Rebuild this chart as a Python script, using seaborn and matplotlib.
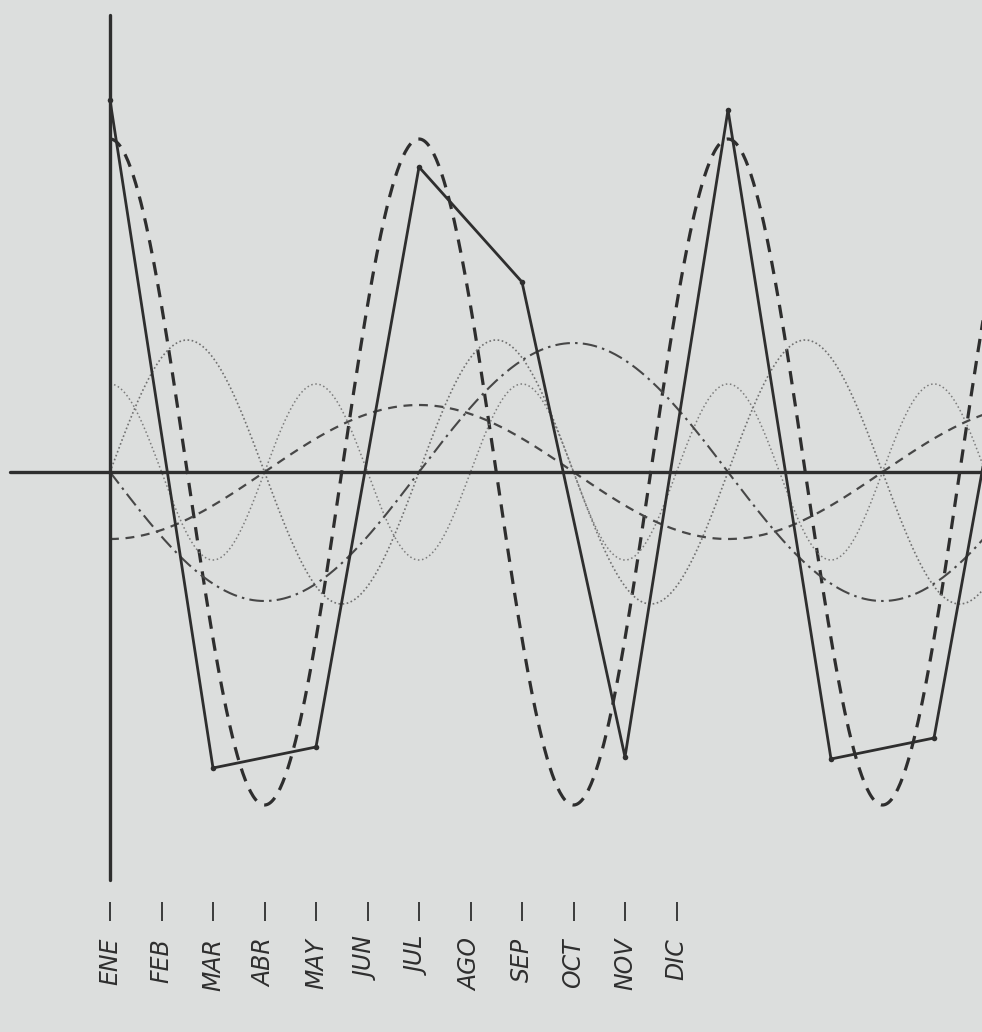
import numpy as np
import pandas as pd
import seaborn as sns
import matplotlib.pyplot as plt

# Monthly axis (Spanish month abbreviations, one tick per month)
months = ["ENE", "FEB", "MAR", "ABR", "MAY", "JUN",
          "JUL", "AGO", "SEP", "OCT", "NOV", "DIC"]

# Observed series, read every two months (month index from ENE = 0)
obs_month = [0, 2, 4, 6, 8, 10, 12, 14, 16, 18]
obs_value = [372, -296, -275, 305, 190, -285, 362, -287, -266, 305]

# Harmonic components drawn under the data: period (months), amplitude, month of peak
harm_period = [6, 6, 4, 12, 12]
harm_amp = [333, 132, 88, 129, 67]
harm_peak = [0, 1.5, 0, 9, 6]
harm_style = ["dashed", "dotted", "dotted2", "dashdot", "shortdash"]

BG = "#dcdedd"
INK = "#2e2e2e"

sns.set_theme(style="white")
plt.rcParams["font.family"] = ["DejaVu Sans"]

fig = plt.figure(figsize=(9.82, 10.32), dpi=100, facecolor=BG)
ax = fig.add_axes([0, 130 / 1032, 1, 902 / 1032])
ax.set_facecolor(BG)

unit = 51.5  # pixels per month
x_lo = -110 / unit
x_hi = (982 - 110) / unit
ax.set_xlim(x_lo, x_hi)
ax.set_ylim(-430, 472)

styles = {
    "dashed": dict(color=INK, lw=2.3, dashes=(4.2, 2.8)),
    "dotted": dict(color="#707070", lw=1.2, dashes=(1, 1.5)),
    "dotted2": dict(color="#7c7c7c", lw=1.1, dashes=(1, 1.7)),
    "dashdot": dict(color="#474747", lw=1.5, dashes=(7, 2.5, 1.2, 2.5)),
    "shortdash": dict(color="#474747", lw=1.6, dashes=(4, 3)),
}

t = np.linspace(0, 17.5, 700)
for per, amp, pk, st in zip(harm_period, harm_amp, harm_peak, harm_style):
    df = pd.DataFrame({"t": t, "y": amp * np.cos(2 * np.pi * (t - pk) / per)})
    s = styles[st]
    line = sns.lineplot(data=df, x="t", y="y", ax=ax, color=s["color"],
                        linewidth=s["lw"], sort=False)
    line.lines[-1].set_dashes(s["dashes"])

# axes drawn by hand on the original
ax.plot([-1.94, x_hi + 1], [0, 0], color=INK, lw=2.4)
ax.plot([0, 0], [457, -408], color=INK, lw=2.4)

obs = pd.DataFrame({"t": obs_month, "y": obs_value})
sns.lineplot(data=obs, x="t", y="y", ax=ax, color=INK, linewidth=2.0,
             marker="o", markersize=4, markeredgewidth=0)

for sp in ax.spines.values():
    sp.set_visible(False)
ax.set_xlabel("")
ax.set_ylabel("")
ax.set_yticks([])
ax.set_xticks(range(len(months)))
ax.set_xticklabels(months, rotation=90, fontsize=17, style="oblique",
                   color=INK)
ax.tick_params(axis="x", bottom=True, direction="out", length=14,
               width=1.3, color=INK, pad=12)

fig.savefig("out.png", dpi=100, facecolor=BG)
